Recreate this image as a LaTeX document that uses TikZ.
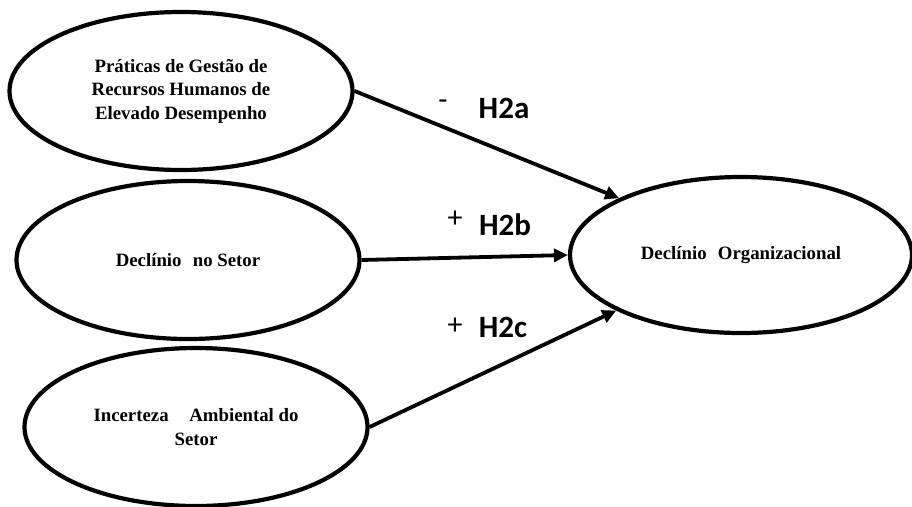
\documentclass[tikz,border=0pt]{standalone}
\usepackage{fontspec}
\setmainfont{Liberation Serif}
\newfontfamily\labelfont{Carlito}
\usetikzlibrary{shapes.geometric,arrows.meta}
\begin{document}
\begin{tikzpicture}[x=1pt,y=-1pt,
  construct/.style={ellipse, draw, line width=4.2pt, inner sep=0pt,
    minimum width=343pt, minimum height=158pt, align=center,
    font=\fontsize{18.8}{23.5}\selectfont\bfseries},
  path/.style={line width=3.8pt, -{Triangle[length=14pt,width=13pt]}},
  hyp/.style={font=\labelfont\fontsize{31}{33}\selectfont\bfseries, inner sep=0pt},
  sign/.style={font=\labelfont\fontsize{30}{32}\selectfont, inner sep=0pt}]
\useasboundingbox (0,0) rectangle (912,506);

% latent constructs
\node[construct] (praticas) at (181,91)
  {Práticas de Gestão de\\Recursos Humanos de\\Elevado Desempenho};
\node[construct] (setor) at (188,260) {Declínio\hspace{0.6em}no Setor};
\node[construct] (incerteza) at (196,427)
  {Incerteza\hspace{1.1em}Ambiental do\\Setor};
\node[construct, minimum width=342pt, minimum height=156pt] (declinio) at (741,255)
  {Declínio\hspace{0.6em}Organizacional};

% hypothesised paths
\draw[path] (praticas.east) -- (declinio.155.6);
\draw[path] (setor.east) -- (declinio.west);
\draw[path] (incerteza.east) -- (declinio.204.4);

% hypothesis labels
\node[sign] (sa) at (443,105) {-};
\node[hyp] (ha) at (504,108) {H2a};
\node[sign] (sb) at (455,219) {+};
\node[hyp] (hb) at (505,225) {H2b};
\node[sign] (sc) at (455,326) {+};
\node[hyp] (hc) at (503,327) {H2c};
\end{tikzpicture}
\end{document}
